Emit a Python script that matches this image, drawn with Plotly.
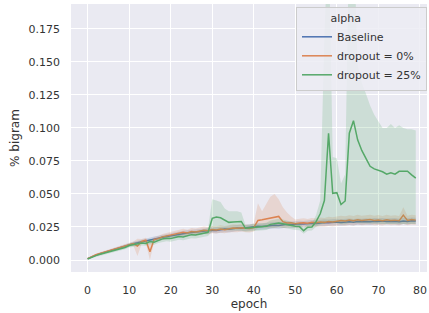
import plotly.graph_objects as go

epochs = list(range(80))

baseline = [0.0010, 0.0025, 0.0037, 0.0048, 0.0058, 0.0068, 0.0078, 0.0088, 0.0097, 0.0106,
            0.0116, 0.0124, 0.0130, 0.0138, 0.0145, 0.0152, 0.0160, 0.0165, 0.0172, 0.0178,
            0.0185, 0.0190, 0.0195, 0.0200, 0.0205, 0.0208, 0.0212, 0.0216, 0.0220, 0.0222,
            0.0226, 0.0224, 0.0230, 0.0234, 0.0232, 0.0238, 0.0242, 0.0240, 0.0245, 0.0247,
            0.0250, 0.0255, 0.0253, 0.0258, 0.0260, 0.0263, 0.0261, 0.0266, 0.0270, 0.0267,
            0.0272, 0.0274, 0.0272, 0.0277, 0.0279, 0.0277, 0.0281, 0.0284, 0.0282, 0.0285,
            0.0288, 0.0284, 0.0288, 0.0290, 0.0286, 0.0291, 0.0289, 0.0292, 0.0289, 0.0294,
            0.0292, 0.0295, 0.0291, 0.0295, 0.0294, 0.0289, 0.0296, 0.0292, 0.0298, 0.0296]
baseline_lo = [0.0006, 0.0020, 0.0031, 0.0041, 0.0050, 0.0059, 0.0068, 0.0077, 0.0085, 0.0093,
               0.0102, 0.0110, 0.0115, 0.0122, 0.0128, 0.0135, 0.0142, 0.0146, 0.0153, 0.0158,
               0.0165, 0.0170, 0.0175, 0.0179, 0.0184, 0.0187, 0.0190, 0.0194, 0.0198, 0.0200,
               0.0204, 0.0202, 0.0207, 0.0211, 0.0209, 0.0215, 0.0219, 0.0217, 0.0222, 0.0224,
               0.0227, 0.0231, 0.0229, 0.0234, 0.0236, 0.0239, 0.0237, 0.0242, 0.0246, 0.0243,
               0.0248, 0.0250, 0.0248, 0.0253, 0.0255, 0.0253, 0.0257, 0.0260, 0.0258, 0.0261,
               0.0264, 0.0260, 0.0264, 0.0266, 0.0262, 0.0267, 0.0265, 0.0268, 0.0265, 0.0270,
               0.0268, 0.0271, 0.0267, 0.0271, 0.0270, 0.0265, 0.0272, 0.0268, 0.0274, 0.0272]
baseline_hi = [0.0014, 0.0030, 0.0043, 0.0055, 0.0066, 0.0077, 0.0088, 0.0099, 0.0109, 0.0119,
               0.0130, 0.0138, 0.0145, 0.0154, 0.0162, 0.0169, 0.0178, 0.0184, 0.0191, 0.0198,
               0.0205, 0.0210, 0.0215, 0.0221, 0.0226, 0.0229, 0.0234, 0.0238, 0.0242, 0.0244,
               0.0248, 0.0246, 0.0253, 0.0257, 0.0255, 0.0261, 0.0265, 0.0263, 0.0268, 0.0270,
               0.0273, 0.0279, 0.0277, 0.0282, 0.0284, 0.0287, 0.0285, 0.0290, 0.0294, 0.0291,
               0.0296, 0.0298, 0.0296, 0.0301, 0.0303, 0.0301, 0.0305, 0.0308, 0.0306, 0.0309,
               0.0312, 0.0308, 0.0312, 0.0314, 0.0310, 0.0315, 0.0313, 0.0316, 0.0313, 0.0318,
               0.0316, 0.0319, 0.0315, 0.0319, 0.0318, 0.0313, 0.0320, 0.0316, 0.0322, 0.0320]

dropout0 = [0.0010, 0.0027, 0.0040, 0.0050, 0.0060, 0.0070, 0.0080, 0.0090, 0.0100, 0.0108,
            0.0118, 0.0125, 0.0105, 0.0140, 0.0150, 0.0062, 0.0155, 0.0162, 0.0175, 0.0182,
            0.0190, 0.0195, 0.0200, 0.0210, 0.0205, 0.0215, 0.0212, 0.0220, 0.0225, 0.0222,
            0.0230, 0.0228, 0.0235, 0.0230, 0.0238, 0.0242, 0.0240, 0.0245, 0.0240, 0.0238,
            0.0245, 0.0300, 0.0305, 0.0312, 0.0318, 0.0322, 0.0330, 0.0290, 0.0280, 0.0282,
            0.0275, 0.0280, 0.0283, 0.0278, 0.0285, 0.0282, 0.0288, 0.0285, 0.0292, 0.0288,
            0.0295, 0.0300, 0.0296, 0.0302, 0.0298, 0.0305, 0.0300, 0.0302, 0.0306, 0.0300,
            0.0303, 0.0298, 0.0305, 0.0300, 0.0302, 0.0298, 0.0340, 0.0300, 0.0306, 0.0302]
dropout0_lo = [0.0006, 0.0021, 0.0033, 0.0042, 0.0051, 0.0060, 0.0069, 0.0078, 0.0087, 0.0094,
               0.0103, 0.0109, 0.0030, 0.0121, 0.0131, 0.0000, 0.0136, 0.0142, 0.0154, 0.0160,
               0.0167, 0.0172, 0.0176, 0.0184, 0.0180, 0.0188, 0.0186, 0.0193, 0.0197, 0.0195,
               0.0203, 0.0201, 0.0207, 0.0203, 0.0210, 0.0213, 0.0211, 0.0216, 0.0211, 0.0209,
               0.0215, 0.0245, 0.0248, 0.0243, 0.0245, 0.0243, 0.0248, 0.0243, 0.0245, 0.0248,
               0.0243, 0.0247, 0.0250, 0.0245, 0.0252, 0.0249, 0.0254, 0.0251, 0.0257, 0.0253,
               0.0260, 0.0264, 0.0260, 0.0266, 0.0262, 0.0268, 0.0264, 0.0266, 0.0269, 0.0264,
               0.0266, 0.0262, 0.0268, 0.0264, 0.0266, 0.0262, 0.0272, 0.0264, 0.0269, 0.0266]
dropout0_hi = [0.0014, 0.0033, 0.0047, 0.0058, 0.0069, 0.0080, 0.0091, 0.0102, 0.0113, 0.0122,
               0.0133, 0.0141, 0.0160, 0.0159, 0.0169, 0.0130, 0.0174, 0.0182, 0.0196, 0.0204,
               0.0213, 0.0218, 0.0224, 0.0236, 0.0230, 0.0242, 0.0238, 0.0247, 0.0253, 0.0249,
               0.0257, 0.0255, 0.0263, 0.0257, 0.0266, 0.0271, 0.0269, 0.0274, 0.0269, 0.0267,
               0.0278, 0.0430, 0.0370, 0.0420, 0.0480, 0.0500, 0.0460, 0.0400, 0.0360, 0.0330,
               0.0307, 0.0313, 0.0316, 0.0311, 0.0318, 0.0315, 0.0322, 0.0319, 0.0327, 0.0323,
               0.0330, 0.0336, 0.0332, 0.0338, 0.0334, 0.0342, 0.0336, 0.0338, 0.0343, 0.0336,
               0.0340, 0.0334, 0.0342, 0.0336, 0.0338, 0.0334, 0.0400, 0.0336, 0.0343, 0.0338]

dropout25 = [0.0008, 0.0022, 0.0033, 0.0043, 0.0052, 0.0060, 0.0068, 0.0076, 0.0086, 0.0095,
             0.0110, 0.0115, 0.0122, 0.0128, 0.0125, 0.0140, 0.0135, 0.0150, 0.0160, 0.0165,
             0.0162, 0.0170, 0.0178, 0.0175, 0.0185, 0.0192, 0.0190, 0.0198, 0.0205, 0.0210,
             0.0315, 0.0325, 0.0320, 0.0300, 0.0285, 0.0287, 0.0290, 0.0292, 0.0240, 0.0242,
             0.0245, 0.0248, 0.0250, 0.0255, 0.0270, 0.0275, 0.0280, 0.0275, 0.0268, 0.0258,
             0.0255, 0.0253, 0.0222, 0.0248, 0.0250, 0.0290, 0.0350, 0.0450, 0.0960, 0.0505,
             0.0510, 0.0420, 0.0447, 0.0960, 0.1055, 0.0910, 0.0830, 0.0770, 0.0710, 0.0690,
             0.0680, 0.0668, 0.0650, 0.0660, 0.0650, 0.0672, 0.0672, 0.0672, 0.0645, 0.0620]
dropout25_lo = [0.0004, 0.0016, 0.0026, 0.0035, 0.0043, 0.0050, 0.0057, 0.0064, 0.0073, 0.0081,
                0.0095, 0.0099, 0.0105, 0.0110, 0.0107, 0.0120, 0.0115, 0.0129, 0.0138, 0.0142,
                0.0139, 0.0146, 0.0153, 0.0150, 0.0159, 0.0165, 0.0163, 0.0170, 0.0177, 0.0182,
                0.0220, 0.0225, 0.0228, 0.0225, 0.0222, 0.0222, 0.0224, 0.0224, 0.0214, 0.0216,
                0.0219, 0.0222, 0.0224, 0.0228, 0.0240, 0.0244, 0.0248, 0.0244, 0.0238, 0.0230,
                0.0227, 0.0225, 0.0198, 0.0222, 0.0224, 0.0252, 0.0268, 0.0275, 0.0290, 0.0278,
                0.0278, 0.0270, 0.0270, 0.0280, 0.0282, 0.0280, 0.0278, 0.0276, 0.0275, 0.0274,
                0.0274, 0.0273, 0.0272, 0.0273, 0.0272, 0.0274, 0.0274, 0.0274, 0.0273, 0.0272]
dropout25_hi = [0.0012, 0.0028, 0.0040, 0.0051, 0.0061, 0.0070, 0.0079, 0.0088, 0.0099, 0.0109,
                0.0125, 0.0131, 0.0139, 0.0146, 0.0143, 0.0160, 0.0155, 0.0171, 0.0182, 0.0188,
                0.0185, 0.0194, 0.0203, 0.0200, 0.0211, 0.0219, 0.0217, 0.0226, 0.0233, 0.0238,
                0.0460, 0.0450, 0.0440, 0.0390, 0.0370, 0.0370, 0.0370, 0.0360, 0.0266, 0.0268,
                0.0271, 0.0274, 0.0276, 0.0282, 0.0300, 0.0306, 0.0312, 0.0306, 0.0298, 0.0286,
                0.0283, 0.0281, 0.0246, 0.0274, 0.0276, 0.0340, 0.0450, 0.1700, 0.2500, 0.0780,
                0.0770, 0.0580, 0.0650, 0.2500, 0.2500, 0.1480, 0.1340, 0.1260, 0.1170, 0.1100,
                0.1050, 0.1000, 0.1000, 0.1030, 0.1000, 0.1020, 0.1000, 0.0990, 0.0990, 0.0980]

series = [
    ("Baseline", baseline, baseline_lo, baseline_hi, "#4c72b0", "rgba(76,114,176,0.2)"),
    ("dropout = 0%", dropout0, dropout0_lo, dropout0_hi, "#dd8452", "rgba(221,132,82,0.2)"),
    ("dropout = 25%", dropout25, dropout25_lo, dropout25_hi, "#55a868", "rgba(85,168,104,0.2)"),
]

fig = go.Figure()
for i, (name, vals, lo, hi, color, fillc) in enumerate(series):
    fig.add_trace(go.Scatter(
        x=epochs, y=vals, mode="lines", name=name,
        line=dict(color=color, width=1.5),
    ))
    fig.add_trace(go.Scatter(
        x=epochs + epochs[::-1], y=hi + lo[::-1], mode="lines",
        fill="toself", fillcolor=fillc, line=dict(width=0, color=fillc),
        showlegend=False, hoverinfo="skip",
    ))

font = "DejaVu Sans, sans-serif"
fig.update_layout(
    width=429, height=313,
    margin=dict(l=71, r=2, t=4, b=41, autoexpand=False),
    paper_bgcolor="white", plot_bgcolor="#eaeaf2",
    font=dict(family=font, size=11, color="#333333"),
    showlegend=True,
    legend=dict(
        x=1, y=0.9888, xanchor="right", yanchor="top",
        bgcolor="rgba(236,236,243,0.85)", bordercolor="#cccccc", borderwidth=1,
        font=dict(size=11, color="#333333"),
        title=dict(text="&nbsp;" * 9 + "alpha", side="top",
                   font=dict(size=11, color="#333333")),
        itemwidth=30,
    ),
    xaxis=dict(
        range=[-4.0, 81.7], tickvals=[0, 10, 20, 30, 40, 50, 60, 70, 80],
        showgrid=True, gridcolor="white", gridwidth=1, zeroline=False,
        showline=False, ticks="", ticklabelstandoff=10, automargin=False,
        title=dict(text="epoch", font=dict(size=12, color="#333333"), standoff=2),
    ),
    yaxis=dict(
        range=[-0.00909, 0.1939],
        tickvals=[0, 0.025, 0.05, 0.075, 0.1, 0.125, 0.15, 0.175],
        ticktext=["0.000", "0.025", "0.050", "0.075", "0.100", "0.125", "0.150", "0.175"],
        showgrid=True, gridcolor="white", gridwidth=1, zeroline=False,
        showline=False, ticks="", ticklabelstandoff=10, automargin=False,
        title=dict(text="% bigram", font=dict(size=12, color="#333333"), standoff=6),
    ),
)

fig.write_html("out.html", config={"displayModeBar": False},
               post_script="document.body.style.margin='0px';")
